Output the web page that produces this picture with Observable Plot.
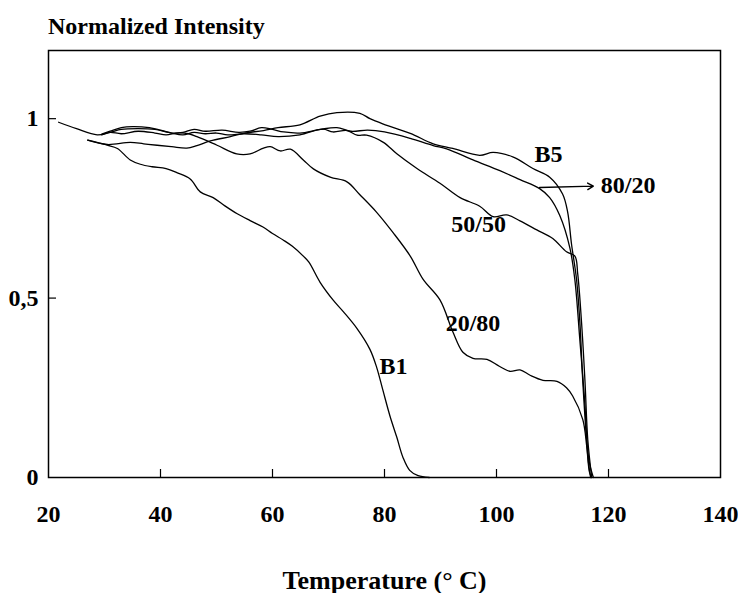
<!DOCTYPE html>
<html>
<head>
<meta charset="utf-8">
<script src="https://cdn.jsdelivr.net/npm/d3@7"></script>
<script src="https://cdn.jsdelivr.net/npm/@observablehq/plot@0.6"></script>
<style>
  html, body { margin: 0; padding: 0; background: white; }
  #title { height: 40px; box-sizing: border-box; padding: 13px 0 0 48px; line-height: 27px;
           font: bold 24px "Liberation Serif", "Times New Roman", serif; color: black; }
</style>
</head>
<body>
<div id="title">Normalized Intensity</div>
<div id="chart"></div>
<script>
// ---- data (temperature °C, normalized intensity) ----
const b5T = [27,30.5,34.6,37,39.4,42,44.7,46.5,48.9,52.5,54.8,58.4,61,64.9,68.5,71.5,75.6,77.4,79.8,84.6,88.7,92.2,97,99.4,103,106.5,109.5,111.8,112.7,113.4,114.3,114.9,115.4,116.1,116.6,117.3];
const b5V = [0.94,0.928,0.934,0.93,0.926,0.922,0.918,0.925,0.938,0.95,0.959,0.967,0.975,0.983,1.007,1.017,1.015,1.0,0.985,0.959,0.93,0.917,0.898,0.906,0.893,0.861,0.837,0.79,0.74,0.65,0.551,0.43,0.27,0.105,0.04,0];

const s8020T = [21.8,25,28.7,31,33,36,39,42,44,46,48,51,54,56,58,60,62,64.9,68.5,71.5,74,77,80,84.6,88.7,91.1,95.8,100.6,104.2,107.7,109.5,111.3,113.1,114,114.9,115.8,116.3,116.8];
const s8020V = [0.99,0.972,0.955,0.962,0.97,0.972,0.97,0.96,0.962,0.97,0.965,0.968,0.962,0.965,0.975,0.97,0.963,0.96,0.97,0.975,0.965,0.968,0.963,0.945,0.925,0.916,0.885,0.855,0.83,0.805,0.78,0.73,0.64,0.55,0.38,0.2,0.06,0];

const s5050T = [29.5,31,33,35,38,40,42,44,46,48,50,52,55,58,61,64.9,69,70.8,73.3,75.1,76.8,79.8,82.2,85.8,89.9,93.5,97,99.4,101.8,104.2,107.2,110.05,112.5,114,114.5,115.2,115.8,116.3,117];
const s5050V = [0.957,0.965,0.975,0.978,0.975,0.968,0.96,0.955,0.962,0.958,0.96,0.955,0.958,0.955,0.95,0.955,0.971,0.963,0.967,0.954,0.954,0.934,0.902,0.861,0.82,0.78,0.756,0.727,0.732,0.715,0.69,0.666,0.629,0.617,0.568,0.429,0.268,0.105,0];

const s2080T = [29.5,31,33,36,39,41,43,45,46.5,50.1,53.6,56,58.4,59.6,61.4,63.2,65.5,67.3,70.3,73.3,75.6,78.6,81.5,84.6,86.9,89.9,92.2,94,95.8,98.3,100.5,102.4,104.2,106,108.3,110.8,112.5,113.6,115.4,116.1,116.6,117];
const s2080V = [0.955,0.962,0.958,0.965,0.96,0.955,0.96,0.958,0.95,0.926,0.902,0.902,0.918,0.922,0.91,0.915,0.885,0.86,0.837,0.824,0.788,0.739,0.683,0.617,0.552,0.495,0.406,0.349,0.332,0.329,0.31,0.296,0.3,0.285,0.271,0.268,0.25,0.227,0.162,0.089,0.015,0];

const b1T = [27,30.5,32.3,34.6,36.4,38.5,41,43,45.3,47.1,49.4,51.5,53.7,56,58.3,60,61.9,63.5,65.5,66.5,68.5,70.8,72.6,75.1,77.4,78.6,79.7,81,82.2,83.3,84.5,86,88];
const b1V = [0.94,0.926,0.917,0.885,0.873,0.866,0.861,0.849,0.832,0.796,0.78,0.757,0.735,0.716,0.698,0.68,0.662,0.645,0.617,0.6,0.544,0.495,0.463,0.415,0.357,0.307,0.244,0.17,0.112,0.056,0.02,0.005,0];

const seriesNames = ["B5", "80/20", "50/50", "20/80", "B1"];
const seriesT = [b5T, s8020T, s5050T, s2080T, b1T];
const seriesV = [b5V, s8020V, s5050V, s2080V, b1V];

// curve labels (text, T, value)
const labelText = ["B5", "80/20", "50/50", "20/80", "B1"];
const labelT = [109.3, 123.5, 96.8, 95.8, 81.6];
const labelV = [0.9, 0.815, 0.705, 0.43, 0.31];

// arrow for 80/20 label
const arrowFromT = [107.7], arrowFromV = [0.808];
const arrowToT = [117.3], arrowToV = [0.812];

// axes
const xTickValues = [20, 40, 60, 80, 100, 120, 140];
const xInnerTicks = [40, 60, 80, 100, 120];
const yTickValues = [0, 0.5, 1];
const yTickLabels = ["0", "0,5", "1"];
const yInnerTicks = [0.5, 1];

// ---- build table ----
const rows = [];
seriesNames.forEach((name, i) => {
  seriesT[i].forEach((t, j) => rows.push({series: name, t, v: seriesV[i][j]}));
});
const labels = labelText.map((s, i) => ({s, t: labelT[i], v: labelV[i]}));
const arrows = arrowFromT.map((t, i) => ({t1: t, v1: arrowFromV[i], t2: arrowToT[i], v2: arrowToV[i]}));

const chart = Plot.plot({
  width: 738,
  height: 553,
  marginTop: 10,
  marginBottom: 116,
  marginLeft: 48,
  marginRight: 18,
  style: "font-family: 'Liberation Serif', 'Times New Roman', serif; font-size: 24px; font-weight: bold; color: black; background: white;",
  x: {domain: [20, 140]},
  y: {domain: [0, 1.19]},
  marks: [
    Plot.frame({stroke: "black", strokeWidth: 1.5}),
    Plot.axisX({ticks: xInnerTicks, tickSize: 8, dy: -8, text: null, label: null, stroke: "black", strokeWidth: 1.2}),
    Plot.axisX({ticks: xTickValues, tickSize: 0, tickPadding: 27, fontSize: 24, label: null, fill: "black"}),
    Plot.axisX({ticks: [], tickSize: 0, text: null, label: "Temperature (° C)", labelAnchor: "center", labelOffset: 111, labelArrow: "none", fontSize: 26, fill: "black"}),
    Plot.axisY({ticks: yInnerTicks, tickSize: 8, dx: 8, text: null, label: null, stroke: "black", strokeWidth: 1.2}),
    Plot.axisY({ticks: yTickValues, tickSize: 0, tickPadding: 10, fontSize: 24, tickFormat: (d) => yTickLabels[yTickValues.indexOf(d)], label: null, fill: "black"}),
    Plot.line(rows, {x: "t", y: "v", z: "series", stroke: "black", strokeWidth: 1.3, curve: "catmull-rom"}),
    Plot.arrow(arrows, {x1: "t1", y1: "v1", x2: "t2", y2: "v2", stroke: "black", strokeWidth: 1.4, headLength: 7}),
    Plot.text(labels, {x: "t", y: "v", text: "s", fill: "black", fontSize: 24, fontWeight: "bold"})
  ]
});
document.getElementById("chart").appendChild(chart);
</script>
</body>
</html>
